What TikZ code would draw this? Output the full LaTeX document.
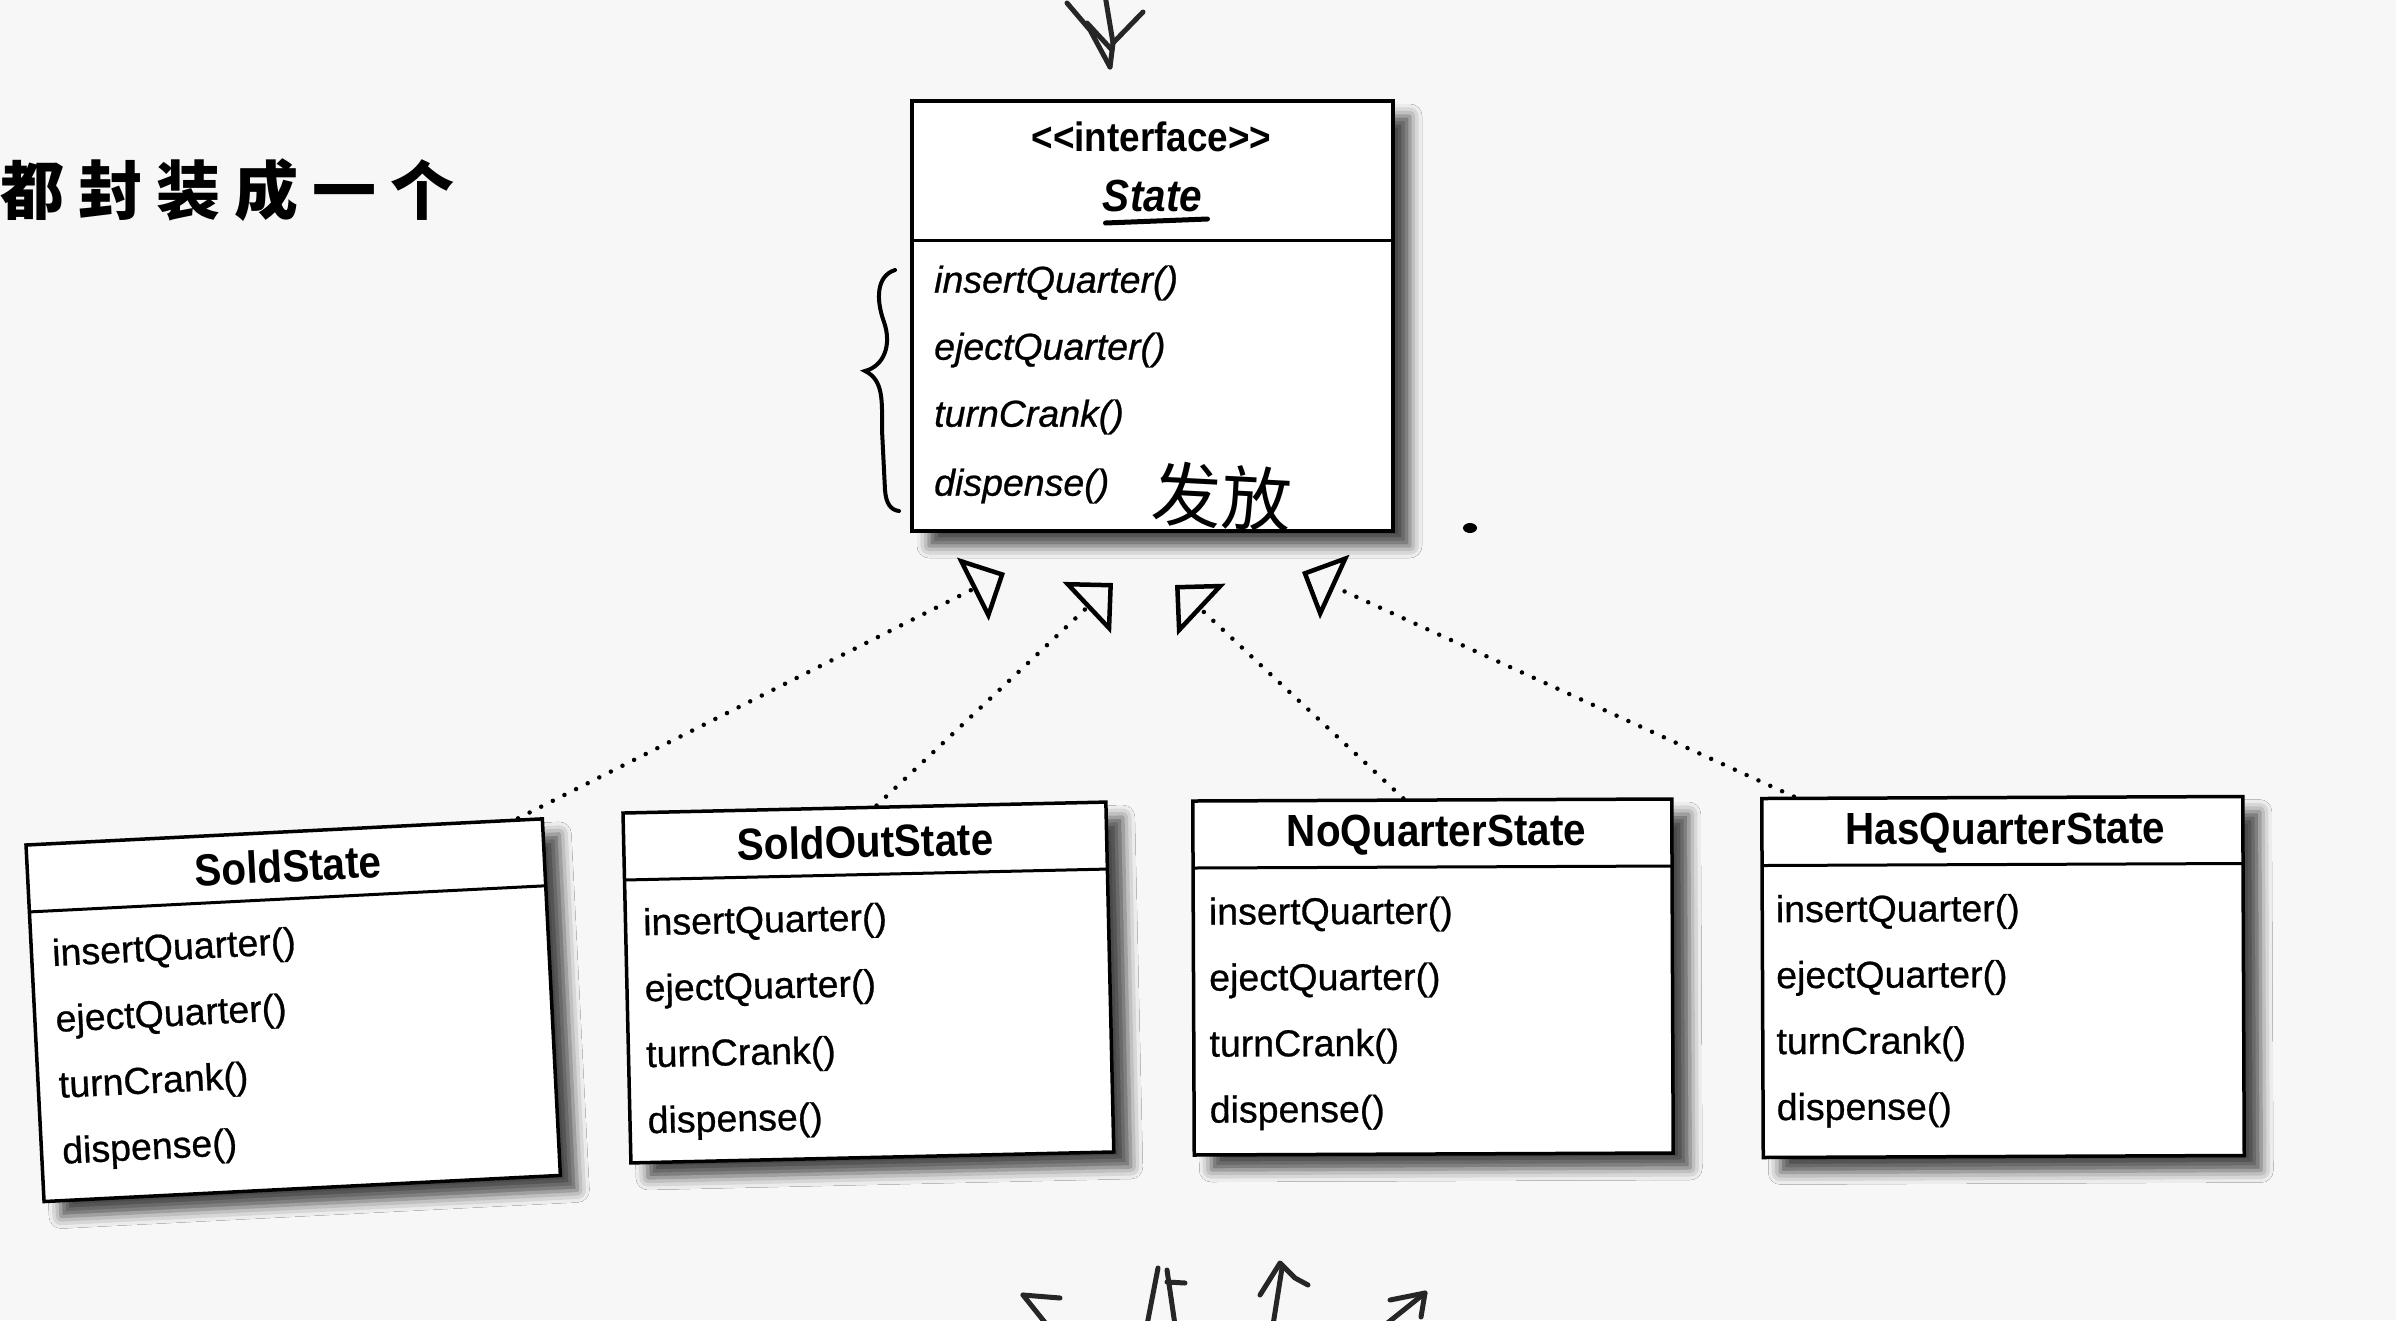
\documentclass[tikz,border=0pt]{standalone}
\usepackage{fontspec}
\setmainfont{Liberation Sans}
\newfontfamily\methfamily[FakeBold=0.7]{Liberation Sans}
\newfontfamily\condfamily[FakeStretch=0.9]{Liberation Sans}
\newfontfamily\cjkfont{Noto Sans CJK SC}
\usetikzlibrary{arrows.meta, shadows.blur, calc}
\newcommand{\umlmeth}{\methfamily\fontsize{37.5}{44}\selectfont}
\newcommand{\umltitle}{\condfamily\fontsize{45}{50}\selectfont\bfseries}
\definecolor{paper}{RGB}{247,247,247}
\begin{document}
\begin{tikzpicture}[x=1pt, y=-1pt,
  umlbox/.style={draw=black, line width=3.5pt, fill=white, inner sep=0pt,
    blur shadow={shadow xshift=17pt, shadow yshift=-15pt, shadow blur radius=12pt, shadow opacity=70}},
  divider/.style={line width=3pt},
  ttl/.style={font=\umltitle, anchor=center, inner sep=0pt},
  meth/.style={font=\umlmeth, anchor=west, inner sep=0pt},
  imeth/.style={font=\umlmeth\itshape, anchor=west, inner sep=0pt},
  realize/.style={line width=4.5pt, dash pattern=on 0pt off 13pt, line cap=round,
    -{Triangle[open, length=36pt, width=70pt, line width=4.5pt]}},
  scribble/.style={line width=5pt, line cap=round, line join=round, color=black!85},
]
\useasboundingbox[fill=paper] (0,0) rectangle (2396,1320);

% heading
\node[anchor=west, inner sep=0pt, font=\cjkfont\bfseries\fontsize{64}{66}\selectfont] (heading) at (0,190)
  {都\kern14pt 封\kern14pt 装\kern14pt 成\kern14pt 一\kern14pt 个};

% hand-drawn arrow at top
\draw[scribble] (1067,3) -- (1090,30) -- (1110,67);
\draw[scribble] (1087,23) -- (1112,50);
\draw[scribble] (1105,-5) -- (1113,43);
\draw[scribble] (1143,12) -- (1113,43) -- (1110,67);

% ---------- State interface ----------
\begin{scope}[shift={(1152.5,316)}]
  \node[umlbox, minimum width=481pt, minimum height=430pt] (state) at (0,0) {};
  \draw[divider] (-240.5,-76) -- (240.5,-76);
  \node[ttl, font=\condfamily\fontsize{41}{46}\selectfont\bfseries] (stereo) at (-1,-179) {<{}<interface>{}>};
  \node[ttl, font=\condfamily\fontsize{45}{50}\selectfont\bfseries\itshape] (sname) at (0,-120) {State};
  \draw[line width=5pt, line cap=round] (-47,-93) -- (55,-97);
  \node[imeth] (s1) at (-218.5,-33) {insertQuarter()};
  \node[imeth] (s2) at (-218.5,34) {ejectQuarter()};
  \node[imeth] (s3) at (-218.5,101) {turnCrank()};
  \node[imeth] (s4) at (-218.5,170) {dispense()};
\end{scope}

% brace
\draw[line width=4pt, line cap=round] (895,270) .. controls (876,276) and (876,300) .. (884,322)
  .. controls (892,345) and (884,366) .. (865,371)
  .. controls (884,380) and (882,402) .. (882,430) -- (885,490)
  .. controls (886,504) and (891,510) .. (899,511);

% handwritten note
\node[font=\cjkfont\fontsize{70}{72}\selectfont, rotate=-3, inner sep=0pt] (note) at (1222,497) {发放};
\fill (1470,528) ellipse [x radius=7pt, y radius=5pt];

% ---------- SoldState ----------
\begin{scope}[shift={(293.2,1010.2)}, rotate=2.9, transform shape]
  \node[umlbox, minimum width=517pt, minimum height=357pt] (sold) at (0,0) {};
  \draw[divider] (-258.5,-111.5) -- (258.5,-111.5);
  \node[ttl] (soldt) at (2,-144.5) {SoldState};
  \node[meth] (sold1) at (-238,-66) {insertQuarter()};
  \node[meth] (sold2) at (-238,0) {ejectQuarter()};
  \node[meth] (sold3) at (-238,66) {turnCrank()};
  \node[meth] (sold4) at (-238,132) {dispense()};
\end{scope}

% ---------- SoldOutState ----------
\begin{scope}[shift={(868.4,982.5)}, rotate=1.3, transform shape]
  \node[umlbox, minimum width=483pt, minimum height=350pt] (soldout) at (0,0) {};
  \draw[divider] (-241.5,-108) -- (241.5,-108);
  \node[ttl] (soldoutt) at (0,-141) {SoldOutState};
  \node[meth] (so1) at (-224,-62) {insertQuarter()};
  \node[meth] (so2) at (-224,4) {ejectQuarter()};
  \node[meth] (so3) at (-224,70) {turnCrank()};
  \node[meth] (so4) at (-224,136) {dispense()};
\end{scope}

% ---------- NoQuarterState ----------
\begin{scope}[shift={(1433,977)}, rotate=0.24, transform shape]
  \node[umlbox, minimum width=479pt, minimum height=354pt] (noq) at (0,0) {};
  \draw[divider] (-239.5,-110) -- (239.5,-110);
  \node[ttl] (noqt) at (4,-142) {NoQuarterState};
  \node[meth] (nq1) at (-224,-63) {insertQuarter()};
  \node[meth] (nq2) at (-224,3) {ejectQuarter()};
  \node[meth] (nq3) at (-224,69) {turnCrank()};
  \node[meth] (nq4) at (-224,135) {dispense()};
\end{scope}

% ---------- HasQuarterState ----------
\begin{scope}[shift={(2003,977)}, rotate=0.24, transform shape]
  \node[umlbox, minimum width=481pt, minimum height=359pt] (hasq) at (0,0) {};
  \draw[divider] (-240.5,-112.5) -- (240.5,-112.5);
  \node[ttl] (hasqt) at (3,-144) {HasQuarterState};
  \node[meth] (hq1) at (-227,-65.5) {insertQuarter()};
  \node[meth] (hq2) at (-227,0.5) {ejectQuarter()};
  \node[meth] (hq3) at (-227,66.5) {turnCrank()};
  \node[meth] (hq4) at (-227,132.5) {dispense()};
\end{scope}

% ---------- realization connectors ----------
\coordinate (t1) at (1005,573);
\coordinate (t2) at (1113,583);
\coordinate (t3) at (1175,585);
\coordinate (t4) at (1302,572);
\draw[realize] ($(sold.north)!0.9!(sold.north east)$) -- (t1);
\draw[realize] ($(soldout.north)!0.05!(soldout.north east)$) -- (t2);
\draw[realize] ($(noq.north)!0.12!(noq.north west)$) -- (t3);
\draw[realize] ($(hasq.north west)!0.07!(hasq.north east)$) -- (t4);

% hand-drawn arrows at bottom
\draw[scribble] (1023,1295) -- (1060,1298);
\draw[scribble] (1023,1295) -- (1047,1325);
\draw[scribble] (1158,1268) -- (1147,1325);
\draw[scribble] (1167,1270) -- (1175,1325);
\draw[scribble] (1167,1282) -- (1185,1283);
\draw[scribble] (1260,1295) -- (1280,1263) -- (1295,1278) -- (1308,1285);
\draw[scribble] (1282,1268) -- (1273,1325);
\draw[scribble] (1390,1300) -- (1425,1293) -- (1421,1317);
\draw[scribble] (1425,1293) -- (1385,1325);
\end{tikzpicture}
\end{document}
